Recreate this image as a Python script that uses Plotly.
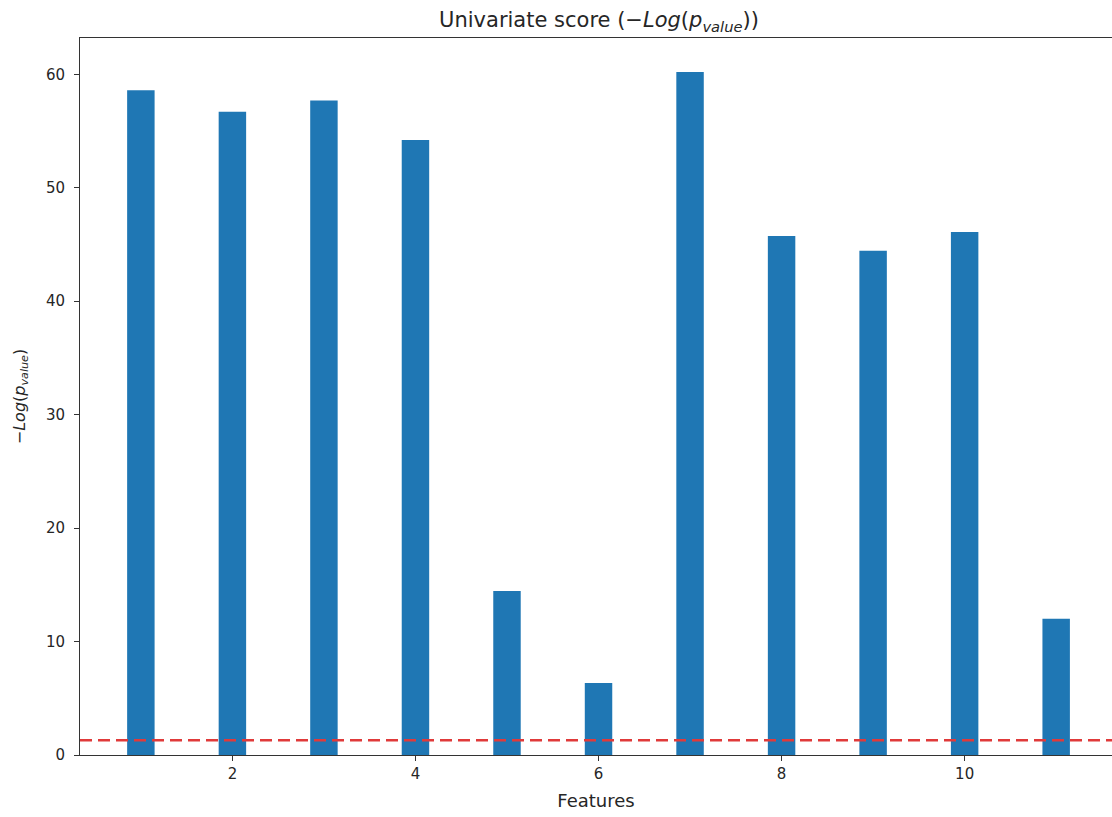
import plotly.graph_objects as go

features = [1, 2, 3, 4, 5, 6, 7, 8, 9, 10, 11]
scores = [58.6, 56.7, 57.7, 54.2, 14.45, 6.35, 60.2, 45.75, 44.45, 46.1, 12.0]
threshold = 1.3
x_ticks = [2, 4, 6, 8, 10]
y_ticks = [0, 10, 20, 30, 40, 50, 60]

FONT = "DejaVu Sans"

fig = go.Figure()
fig.add_trace(go.Bar(
    x=features, y=scores, width=0.3,
    marker=dict(color="#1f77b4", line=dict(width=0)),
))
fig.add_shape(type="line", xref="paper", yref="y", x0=0, x1=1,
              y0=threshold, y1=threshold,
              line=dict(color="#e03a3a", width=2.5, dash="12px,6px"))

fig.update_layout(
    width=1112, height=817,
    margin=dict(l=80, r=0, t=38, b=62),
    plot_bgcolor="white", paper_bgcolor="white",
    showlegend=False,
    font=dict(family=FONT, size=15, color="#262626"),
    title=dict(text="Univariate score (−<i>Log</i>(<i>p</i><sub><i>value</i></sub>))",
               x=599 / 1112, xanchor="center", y=1 - 20 / 817, yanchor="middle",
               font=dict(family=FONT, size=21, color="#262626")),
    xaxis=dict(range=[0.335, 11.61], tickvals=x_ticks, ticks="outside", ticklen=5,
               tickcolor="#333", showline=True, linecolor="#333", linewidth=1,
               mirror=True, showgrid=False, zeroline=False,
               tickfont=dict(size=15),
               title=dict(text="Features", standoff=12, font=dict(size=18))),
    yaxis=dict(range=[0, 63.2], tickvals=y_ticks, ticks="outside", ticklen=5,
               tickcolor="#333", showline=True, linecolor="#333", linewidth=1,
               showgrid=False, zeroline=False, ticklabelstandoff=6,
               tickfont=dict(size=15),
               title=dict(text="−<i>Log</i>(<i>p</i><sub><i>value</i></sub>)", standoff=16,
                          font=dict(size=16))),
)

fig.write_html("out.html")
